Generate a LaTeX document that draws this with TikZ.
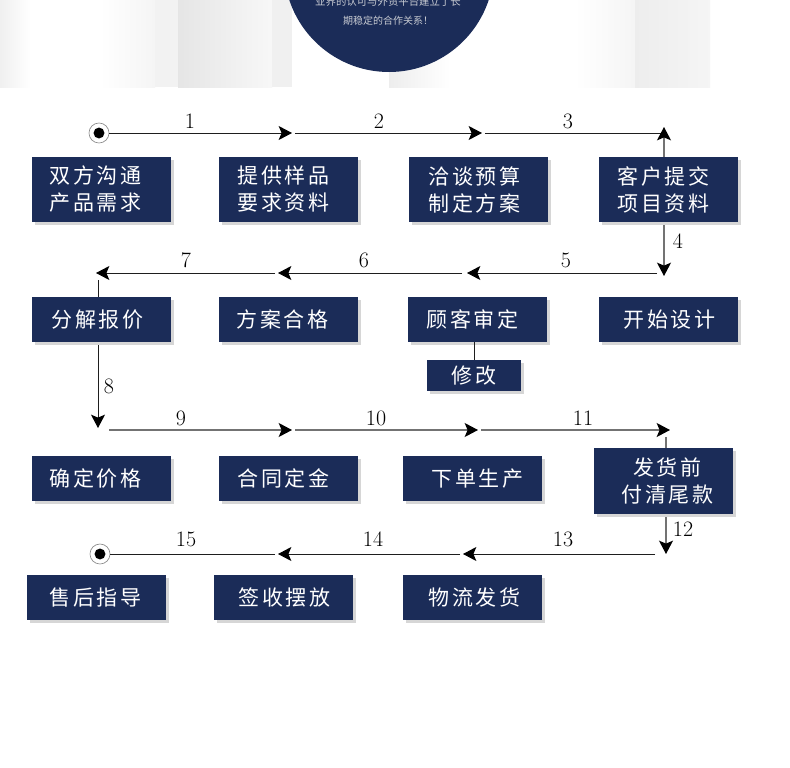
\documentclass[tikz,border=0pt]{standalone}
\usepackage{fontspec}
\newfontfamily\cjk[LetterSpace=12]{Noto Sans CJK SC}
\newfontfamily\cjksmall{Noto Sans CJK SC}
\usetikzlibrary{arrows.meta,shadows}
\definecolor{navy}{RGB}{27,44,88}
\definecolor{ln}{RGB}{30,30,30}
\definecolor{lg}{RGB}{115,115,115}
\definecolor{captxt}{RGB}{200,203,210}
\newcommand\sx[2]{\hspace*{#1}#2\hspace*{-#1}}
\begin{document}
\begin{tikzpicture}[x=0.75pt,y=-0.75pt,
  >={Stealth[length=10pt,width=10.5pt,inset=2.2pt,black]},
  box/.style={fill=navy,text=white,inner sep=0pt,align=center,
    font=\cjk\fontsize{15.75}{20.25}\selectfont,
    drop shadow={shadow xshift=2pt,shadow yshift=-2.5pt,fill=black!16,opacity=1}},
  bA/.style={box,minimum width=104.25pt,minimum height=48.75pt},
  bB/.style={box,minimum width=104.25pt,minimum height=33.75pt},
  num/.style={font=\fontsize{16.5}{16.5}\selectfont,inner sep=0pt,text=black},
  conn/.style={draw=ln,line width=0.75pt,->},
  gconn/.style={draw=lg,line width=1pt,->},
  plain/.style={draw=ln,line width=0.75pt},
  endc/.style={circle,draw=black!45,fill=white,line width=0.5pt,minimum size=15pt,inner sep=0pt},
]
\useasboundingbox (0,0) rectangle (790,768);
\fill[white] (0,0) rectangle (790,768);
% top background strips
\shade[left color=black!6,right color=white] (0,0) rectangle (30,87);
\shade[left color=white,right color=black!4] (100,0) rectangle (155,87);
\fill[black!5] (155,0) rectangle (178,87);
\shade[left color=black!10,right color=black!3] (178,0) rectangle (272,87);
\fill[black!6] (272,0) rectangle (292,87);
\shade[left color=black!7,right color=white] (389,0) rectangle (450,87);
\shade[left color=white,right color=black!4] (575,0) rectangle (635,87);
\shade[left color=black!7,right color=black!4] (635,0) rectangle (710,87);
% top circle
\fill[navy] (389,-33) circle (78.75pt);
\node[font=\cjksmall\fontsize{7.8}{15}\selectfont,text=captxt,inner sep=0pt] (cap1) at (388,1.5) {业界的认可与外贸平台建立了长};
\node[font=\cjksmall\fontsize{7.5}{15}\selectfont,text=captxt,inner sep=0pt] (cap2) at (388,21) {期稳定的合作关系！};

% start / end markers
\node[endc] (s1) at (99,133) {};
\fill[black] (s1.center) circle (4.1pt);
\node[endc] (s2) at (100,554) {};
\fill[black] (s2.center) circle (4.1pt);

% coordinates
\coordinate (t1) at (292,133);
\coordinate (a2) at (295,133); \coordinate (t2) at (482,133);
\coordinate (a3) at (485,133); \coordinate (e3) at (664,133);
\coordinate (u4) at (664,127); \coordinate (d4) at (664,276);
\coordinate (a5) at (657,273); \coordinate (t5) at (467,273);
\coordinate (a6) at (462,273); \coordinate (t6) at (278,273);
\coordinate (a7) at (275,273); \coordinate (t7) at (96,273);
\coordinate (a8) at (98,280);  \coordinate (t8) at (98,428);
\coordinate (a9) at (109,430); \coordinate (t9) at (292,430);
\coordinate (a10) at (295,430); \coordinate (t10) at (478,430);
\coordinate (a11) at (481,430); \coordinate (t11) at (670,430);
\coordinate (a12) at (666,437); \coordinate (t12) at (666,554);
\coordinate (a13) at (655,554); \coordinate (t13) at (463,554);
\coordinate (a14) at (460,554); \coordinate (t14) at (278,554);
\coordinate (a15) at (275,554);

% connectors
\draw[conn] (s1) -- (t1);
\draw[conn] (a2) -- (t2);
\draw[plain] (a3) -- (e3);
\draw[draw=lg,line width=1pt,<->] (u4) -- (d4);
\draw[conn] (a5) -- (t5);
\draw[conn] (a6) -- (t6);
\draw[conn] (a7) -- (t7);
\draw[conn] (a8) -- (t8);
\draw[gconn] (a9) -- (t9);
\draw[gconn] (a10) -- (t10);
\draw[gconn] (a11) -- (t11);
\draw[gconn] (a12) -- (t12);
\draw[conn] (a13) -- (t13);
\draw[conn] (a14) -- (t14);
\draw[plain] (a15) -- (s2);

% labels
\node[num] (l1) at (190,121) {1};
\node[num] (l2) at (379,121) {2};
\node[num] (l3) at (568,121) {3};
\node[num] (l4) at (678,241) {4};
\node[num] (l5) at (566,260) {5};
\node[num] (l6) at (364,260) {6};
\node[num] (l7) at (186,260) {7};
\node[num] (l8) at (109,386) {8};
\node[num] (l9) at (181,418) {9};
\node[num] (l10) at (376,418) {10};
\node[num] (l11) at (583,418) {11};
\node[num] (l12) at (683,529) {12};
\node[num] (l13) at (563,539) {13};
\node[num] (l14) at (373,539) {14};
\node[num] (l15) at (186,539) {15};

% row 1 boxes
\node[bA] (n1) at (101.5,189.5) {\sx{-4.5pt}{双方沟通}\\\sx{-4.5pt}{产品需求}};
\node[bA] (n2) at (288.5,189.5) {\sx{-3.75pt}{提供样品}\\\sx{-3.75pt}{要求资料}};
\node[bA] (n3) at (478.5,189.5) {\sx{-3pt}{洽谈预算}\\\sx{-3pt}{制定方案}};
\node[bA] (n4) at (668.5,189.5) {\sx{-3.75pt}{客户提交}\\\sx{-3.75pt}{项目资料}};
% row 2 boxes
\node[bB] (n5) at (101.5,319.5) {\sx{-3pt}{分解报价}};
\node[bB] (n6) at (288.5,319.5) {\sx{-4.5pt}{方案合格}};
\node[bB] (n7) at (477.5,319.5) {\sx{-3.75pt}{顾客审定}};
\node[bB] (n8) at (668.5,319.5) {\sx{0.75pt}{开始设计}};
\node[box,minimum width=70.5pt,minimum height=23.25pt] (xg) at (474,375.5) {修改};
\draw[plain] (xg.north |- n7.south) -- (xg.north);
% row 3 boxes
\node[bB] (n9) at (101.5,478.5) {\sx{-4.5pt}{确定价格}};
\node[bB] (n10) at (288.5,478.5) {\sx{-3.75pt}{合同定金}};
\node[bB] (n11) at (472.5,478.5) {\sx{3.75pt}{下单生产}};
\node[box,minimum width=104.25pt,minimum height=49.5pt] (n12) at (663.5,481) {\sx{3pt}{发货前}\\\sx{3pt}{付清尾款}};
% row 4 boxes
\node[bB] (n13) at (96.5,597.5) {\sx{-0.75pt}{售后指导}};
\node[bB] (n14) at (283.5,597.5) {\sx{0.75pt}{签收摆放}};
\node[bB] (n15) at (472.5,597.5) {\sx{1.5pt}{物流发货}};
\end{tikzpicture}
\end{document}
